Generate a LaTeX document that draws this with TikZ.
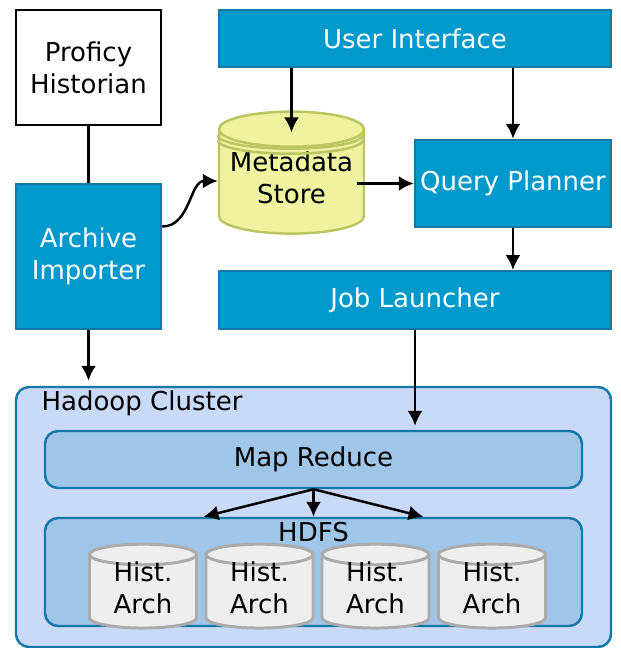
\documentclass[tikz,border=0pt]{standalone}
\usepackage{fontspec}
\setmainfont{DejaVu Sans}
\usetikzlibrary{arrows, arrows.meta, shapes, positioning}

\definecolor{bluebox}{HTML}{0099CC}
\definecolor{blueline}{HTML}{1478A8}
\definecolor{clusterfill}{HTML}{C9DAF8}
\definecolor{innerfill}{HTML}{9FC5E8}
\definecolor{metafill}{HTML}{EFF29F}
\definecolor{metaline}{HTML}{BBC662}
\definecolor{histfill}{HTML}{EEEEEE}
\definecolor{histline}{HTML}{ABABAB}

\tikzset{
	label text/.style={font=\fontsize{14.8}{18.2}\selectfont, align=center, text centered, inner sep=0},
	plain box/.style={label text, draw=black, line width=1.4pt, fill=white, minimum width=2.9cm, minimum height=2.3cm},
	blue box/.style={label text, draw=blueline, line width=1.4pt, fill=bluebox, text=white},
	group box/.style={label text, draw=blueline, line width=1.4pt, rounded corners=0.26cm},
	db/.style={label text, cylinder, shape border rotate=90, line width=1.4pt},
	hist db/.style={db, draw=histline, line width=1.7pt, fill=histfill, minimum width=2.14cm, minimum height=1.64cm, aspect=0.35, text height=0.95cm, text depth=0.08cm},
	link/.style={->, >={Latex[length=8.5pt, width=8.5pt]}, line width=1.4pt},
	ring/.style={draw=metaline, line width=1.4pt},
}

\begin{document}
\begin{tikzpicture}
	     \useasboundingbox (-1.77,1.35) rectangle (10.63,-11.61);

	     % nodes %
		 \node[plain box] (proficy) {Proficy\\Historian};
		 \node[blue box, below of = proficy, node distance=3.78cm, minimum width=2.9cm, minimum height=2.9cm] (archive) {Archive\\Importer};
		 \node[blue box, right of = proficy, node distance=6.53cm, yshift=0.58cm, minimum width=7.84cm, minimum height=1.15cm] (ui) {User Interface};
		 \node[blue box, below of = ui, node distance=2.9cm, xshift=1.96cm, minimum width=3.92cm, minimum height=1.74cm] (query) {Query Planner};
		 \node[blue box, below of = ui, node distance=5.23cm, minimum width=7.84cm, minimum height=1.15cm] (job) {Job Launcher};
		 \node[db, draw=metaline, fill=metafill, right of = archive, node distance=4.06cm, yshift=1.49cm, minimum width=2.9cm, minimum height=2.44cm, aspect=0.285, text height=0.95cm, text depth=0.08cm] (meta) {Metadata\\Store};

		 \node[group box, fill=clusterfill, below of = job, node distance=4.34cm, xshift=-2.03cm, minimum width=11.9cm, minimum height=5.2cm] (hadoop) {};
		 \node[label text, right of = hadoop, node distance=-3.43cm, yshift=2.28cm] (hadooplabel) {Hadoop Cluster};
		 \node[group box, fill=innerfill, above of = hadoop, node distance=1.15cm, minimum width=10.74cm, minimum height=1.14cm] (mapreduce) {Map Reduce};
		 \node[group box, fill=innerfill, below of = hadoop, node distance=1.1cm, minimum width=10.74cm, minimum height=2.16cm] (hdfs) {};
		 \node[label text, above of = hdfs, node distance=0.8cm] (hdfslabel) {HDFS};

		 \node[hist db, below of = hdfs, node distance=0.4cm, xshift=-3.41cm] (hista) {Hist.\\Arch};
		 \node[hist db, right of = hista, node distance=2.33cm] (histb) {Hist.\\Arch};
		 \node[hist db, right of = histb, node distance=2.32cm] (histc) {Hist.\\Arch};
		 \node[hist db, right of = histc, node distance=2.33cm] (histd) {Hist.\\Arch};

		 % extra rings on the store %
		 \draw[ring] (meta.before top) ++(0,-0.12cm) arc[start angle=180, end angle=360, x radius=1.45cm, y radius=0.27cm];
		 \draw[ring] (meta.before top) ++(0,-0.22cm) arc[start angle=180, end angle=360, x radius=1.45cm, y radius=0.27cm];

		 % targets on the hdfs box %
		 \coordinate (hdfsleft) at ([xshift=-2.2cm]hdfs.north);
		 \coordinate (hdfsright) at ([xshift=2.2cm]hdfs.north);

		 % edges %
		 \draw[line width = 1.4] (proficy) -- (archive);
		 \draw[link, shorten >=-0.44cm] (ui.south -| meta.north) -- (meta.north);
		 \draw[link] (ui.south -| query.north) -- (query.north);
		 \draw[link, shorten <=-0.16cm] (meta.east |- query.west) -- (query.west);
		 \draw[link] (query.south) -- (query.south |- job.north);
		 \draw[link] ([yshift=0.6cm]archive.east) to[out=0, in=180] ([yshift=0.02cm]meta.west);
		 \draw[link, shorten >=0.1cm] (archive.south) -- (archive.south |- hadoop.north);
		 \draw[link, shorten >=-0.8cm] (job.south) -- (job.south |- hadoop.north);
		 \draw[link] (mapreduce.south) -- (hdfsleft);
		 \draw[link] (mapreduce.south) -- (hdfs.north);
		 \draw[link] (mapreduce.south) -- (hdfsright);
	     \end{tikzpicture}
\end{document}
